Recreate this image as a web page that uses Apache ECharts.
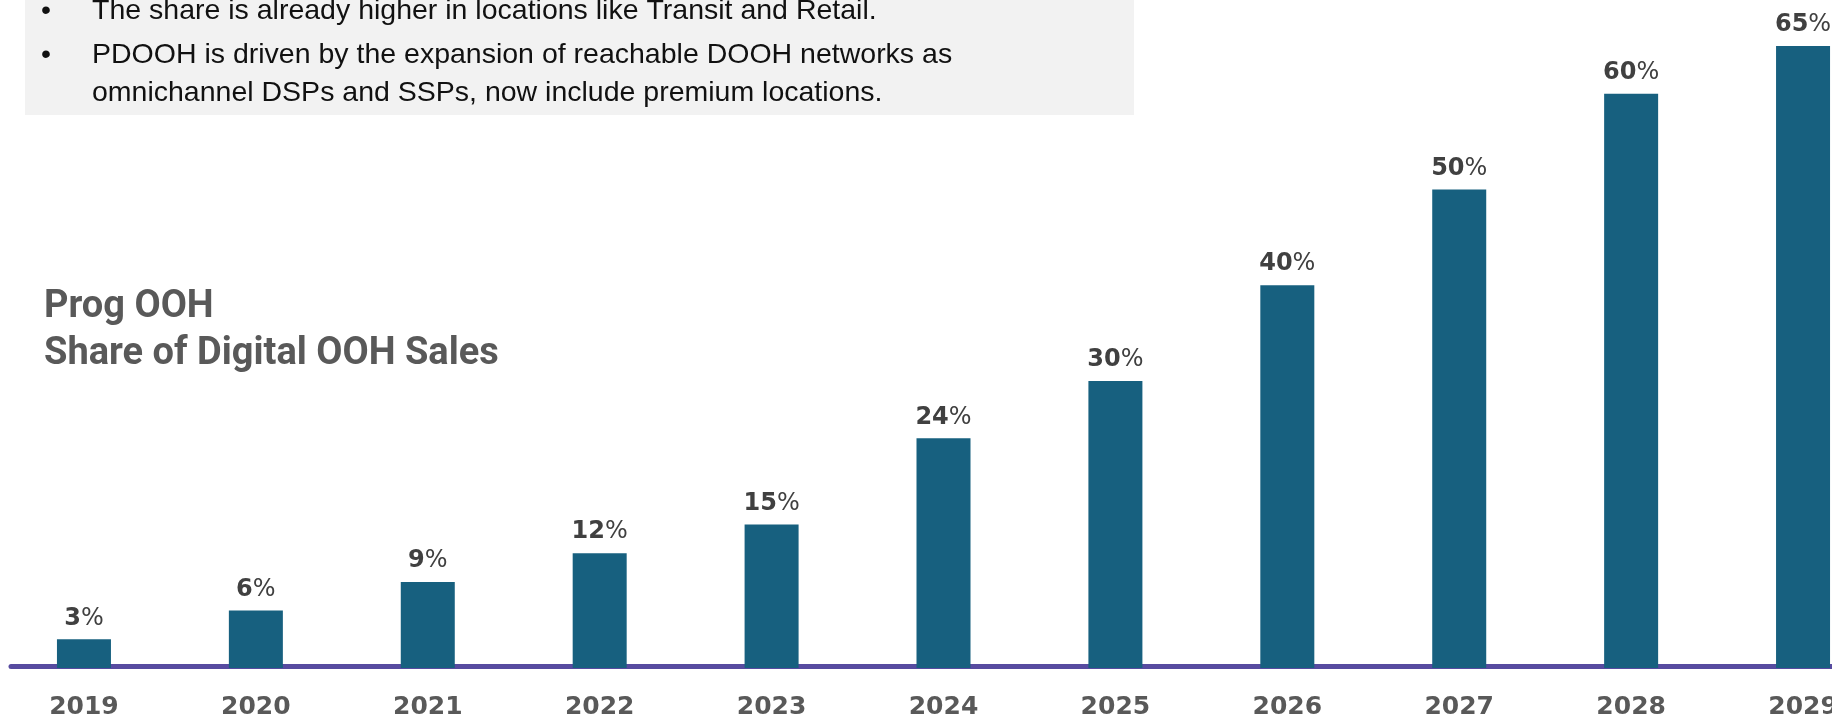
<!DOCTYPE html>
<html>
<head>
<meta charset="utf-8">
<script src="https://cdn.jsdelivr.net/npm/echarts@6/dist/echarts.min.js"></script>
<style>
html,body{margin:0;padding:0;background:#fff;}
#chart{width:1832px;height:718px;}
</style>
</head>
<body>
<div id="chart"></div>
<script>
const years = ['2019','2020','2021','2022','2023','2024','2025','2026','2027','2028','2029'];
const shares = [3, 6, 9, 12, 15, 24, 30, 40, 50, 60, 65];
const titleLines = ['Prog OOH', 'Share of Digital OOH Sales'];
const bullets = [
  ['The share is already higher in locations like Transit and Retail.'],
  ['PDOOH is driven by the expansion of reachable DOOH networks as', 'omnichannel DSPs and SSPs, now include premium locations.']
];

const chart = echarts.init(document.getElementById('chart'), null, {renderer: 'canvas'});

const graphics = [
  {type: 'rect', shape: {x: 25, y: -5, width: 1109, height: 120}, style: {fill: '#f2f2f2'}, z: 0}
];
const bulletY = [[11], [55.5, 92.8]];
bullets.forEach((para, pi) => {
  graphics.push({type: 'text', x: 46, y: bulletY[pi][0], style: {text: '•', font: '28.5px "Liberation Sans"', fill: '#111', align: 'center', verticalAlign: 'middle'}, z: 2});
  para.forEach((line, li) => {
    graphics.push({type: 'text', x: 92, y: bulletY[pi][li], style: {text: line, font: '28.5px "Liberation Sans"', fill: '#111', align: 'left', verticalAlign: 'middle'}, z: 2});
  });
});
const titleY = [307.5, 354];
titleLines.forEach((t, i) => {
  graphics.push({type: 'text', x: 44, y: titleY[i], style: {text: t, font: 'bold 38px Roboto', fill: '#595959', align: 'left', verticalAlign: 'middle'}, z: 2});
});

chart.setOption({
  animation: false,
  backgroundColor: '#ffffff',
  graphic: graphics,
  grid: [
    {left: -2, right: -57, top: 46, bottom: 50, containLabel: false, outerBoundsMode: 'none'},
    {left: 11, right: 0, top: 0, bottom: 52, containLabel: false, outerBoundsMode: 'none'}
  ],
  xAxis: [
    {
      type: 'category', gridIndex: 0, data: years,
      axisLine: {show: false}, axisTick: {show: false},
      axisLabel: {interval: 0, margin: 27, fontFamily: 'DejaVu Sans', fontWeight: 'bold', fontSize: 25, color: '#595959', hideOverlap: false}
    },
    {
      type: 'value', gridIndex: 1, min: 0, max: 1,
      axisLine: {show: true, onZero: false, lineStyle: {color: '#574ba0', width: 5}},
      axisTick: {show: false}, axisLabel: {show: false}, splitLine: {show: false}
    }
  ],
  yAxis: [
    {type: 'value', gridIndex: 0, min: 0, max: 65, show: false, splitLine: {show: false}},
    {type: 'value', gridIndex: 1, min: 0, max: 1, show: false, splitLine: {show: false}}
  ],
  series: [{
    type: 'bar',
    xAxisIndex: 0, yAxisIndex: 0,
    data: shares,
    barWidth: 54,
    z: 3,
    itemStyle: {color: '#17607f'},
    label: {
      show: true, position: 'top', distance: 9,
      formatter: p => '{n|' + p.value + '}{p|%}',
      rich: {
        n: {fontFamily: 'DejaVu Sans', fontWeight: 'bold', fontSize: 24, color: '#404040'},
        p: {fontFamily: 'DejaVu Sans', fontWeight: 'normal', fontSize: 24, color: '#404040'}
      }
    }
  }]
});
</script>
</body>
</html>
